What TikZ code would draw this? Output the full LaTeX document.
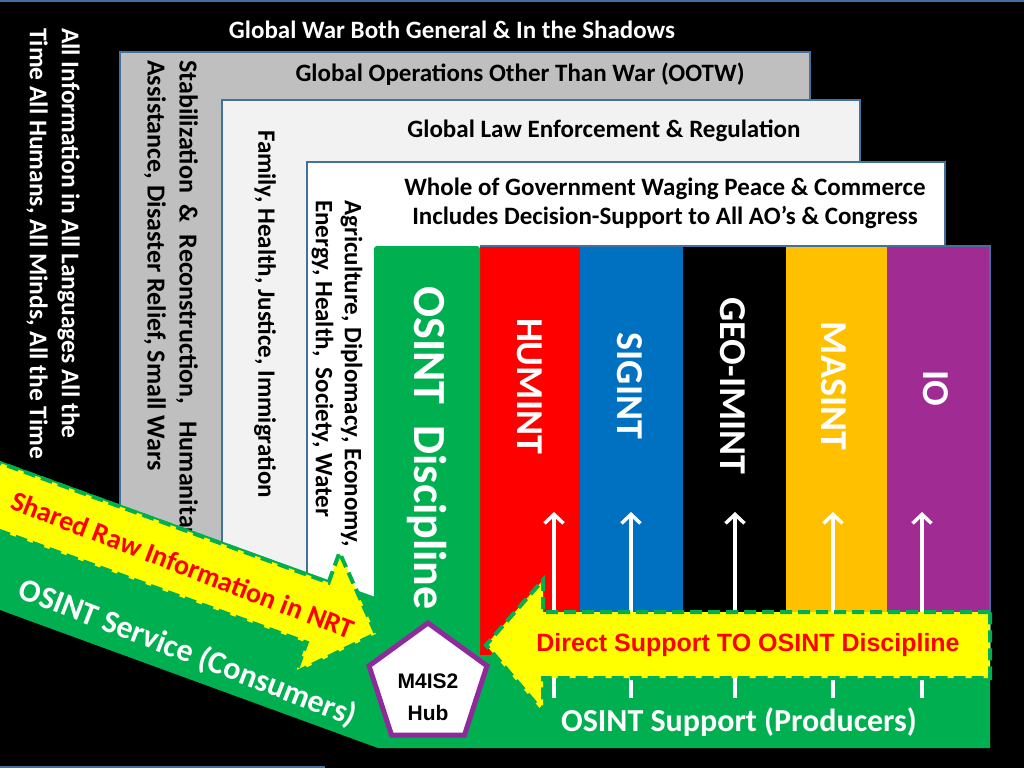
\documentclass[tikz,border=0pt]{standalone}
\usepackage{fontspec}
\setmainfont{Carlito}
\newfontfamily\arialfont{Liberation Sans}
\usetikzlibrary{arrows.meta,shapes.geometric}
\definecolor{layeredge}{HTML}{41719C}
\definecolor{ootwfill}{HTML}{BFBFBF}
\definecolor{lawfill}{HTML}{F2F2F2}
\definecolor{osintgreen}{HTML}{00B050}
\definecolor{humintred}{HTML}{FF0000}
\definecolor{sigintblue}{HTML}{0070C0}
\definecolor{masintgold}{HTML}{FFC000}
\definecolor{iopurple}{HTML}{A02B93}
\definecolor{hubpurple}{HTML}{8E2A9C}
\definecolor{flowyellow}{HTML}{FFFF00}

\begin{document}
\begin{tikzpicture}[
  x=1pt,
  y=-1pt,
  layer/.style={draw=layeredge,line width=2pt},
  layertitle/.style={inner sep=0pt,align=center,font=\bfseries\fontsize{25}{29}\selectfont},
  sidetext/.style={rotate=-90,anchor=west,inner sep=0pt,align=left,font=\bfseries\fontsize{26}{32}\selectfont},
  coltext/.style={rotate=-90,inner sep=0pt,text=white,font=\bfseries\fontsize{38}{40}\selectfont},
  riser/.style={draw=white,line width=3.5pt,-{Straight Barb[length=9pt,width=19pt]}},
  flow/.style={fill=flowyellow,draw=osintgreen,line width=4pt,dash pattern=on 12pt off 6pt},
  flowtext/.style={inner sep=0pt,text=red},
  bandtext/.style={inner sep=0pt,text=white,font=\bfseries\fontsize{32}{32}\selectfont}
]
  \useasboundingbox (0,0) rectangle (1024,768);
  \clip (0,0) rectangle (1024,768);
  \fill[black] (0,0) rectangle (1024,768);
  \draw[layeredge,line width=2pt] (0,1) -- (1024,1);
  \draw[layeredge,line width=2pt] (0,767) -- (325,767);

  % Nested mission layers, outermost first; their lower parts vanish under the bands.
  \filldraw[layer,fill=ootwfill] (120,52) rectangle (810,640);
  \filldraw[layer,fill=lawfill] (222,100) rectangle (860,640);
  \filldraw[layer,fill=white] (307,162) rectangle (945,640);

  \node[layertitle,text=white] (globalwar) at (452,30) {Global War Both General \& In the Shadows};
  \node[layertitle] (ootw) at (520,74) {Global Operations Other Than War (OOTW)};
  \node[layertitle] (lawenf) at (604,131) {Global Law Enforcement \& Regulation};
  \node[layertitle] (wholegov) at (665,203) {Whole of Government Waging Peace \& Commerce\\Includes Decision-Support to All AO’s \& Congress};

  % Side captions read top to bottom.
  \node[sidetext,text=white,font=\bfseries\fontsize{25.5}{32}\selectfont] (allinfo) at (53,28) {All Information in All Languages All the\\Time All Humans, All Minds, All the Time};
  \node[sidetext] (stabilize) at (171,60) {Stabilization~ \&~ Reconstruction,~~ Humanitarian\\Assistance, Disaster Relief, Small Wars};
  \node[sidetext,font=\bfseries\fontsize{25}{32}\selectfont] (family) at (265,130) {Family, Health, Justice, Immigration};
  \node[sidetext,font=\bfseries\fontsize{25}{29}\selectfont] (sectors) at (337,200) {Agriculture, Diplomacy, Economy,\\Energy, Health,~ Society, Water};

  % Consumer band (diagonal) and producer band (bottom) as one green path.
  \fill[osintgreen] (0,461) -- (378,598) -- (378,610) -- (990,610) -- (990,748) -- (378,748) -- (0,610) -- cycle;

  % Discipline columns.
  \fill[humintred] (480,246) rectangle (580,655);
  \fill[sigintblue] (580,246) rectangle (683,655);
  \fill[black] (683,246) rectangle (786,655);
  \fill[masintgold] (786,246) rectangle (887,655);
  \fill[iopurple] (887,246) rectangle (990,655);
  \draw[layer] (480,246) -- (990,246) -- (990,655);
  \fill[osintgreen,rounded corners=3pt] (374,246) rectangle (480,655);

  \node[coltext,font=\bfseries\fontsize{46}{48}\selectfont] (osint) at (427,448) {OSINT~~Discipline};
  \node[coltext] (humint) at (530,386) {HUMINT};
  \node[coltext] (sigint) at (630,386) {SIGINT};
  \node[coltext] (geoimint) at (733,386) {GEO-IMINT};
  \node[coltext] (masint) at (834,386) {MASINT};
  \node[coltext] (io) at (936,388) {IO};

  \foreach \x in {554,631,735,833,922}
    \draw[riser] (\x,698) -- (\x,512);

  % Support flowing back into the discipline.
  \filldraw[flow] (990,612) -- (543,612) -- (543,580) -- (486,645) -- (543,712) -- (543,678) -- (990,678) -- cycle;
  \node[flowtext,font=\arialfont\bfseries\fontsize{25}{25}\selectfont] (directsupport) at (748,645) {Direct Support TO OSINT Discipline};

  % Raw information flowing down to the hub, drawn along its own axis.
  \begin{scope}[shift={(0,497)},rotate=-20]
    \filldraw[flow] (-40,-32) -- (338,-32) -- (338,-64) -- (400,0) -- (338,64) -- (338,32) -- (-40,32) -- cycle;
  \end{scope}
  \node[flowtext,font=\bfseries\fontsize{28}{28}\selectfont,rotate=-21] (sharedraw) at (183,565) {Shared Raw Information in NRT};
  \node[bandtext,rotate=-21] (service) at (188,653) {OSINT Service (Consumers)};
  \node[bandtext] (support) at (739,722) {OSINT Support (Producers)};

  \node[regular polygon,regular polygon sides=5,minimum size=124pt,inner sep=0pt,draw=hubpurple,line width=5pt,fill=white] (hub) at (428,685) {};
  \node[inner sep=0pt,align=center,font=\arialfont\bfseries\fontsize{21}{32}\selectfont] (hublabel) at (428,697) {M4IS2\\Hub};
\end{tikzpicture}
\end{document}
